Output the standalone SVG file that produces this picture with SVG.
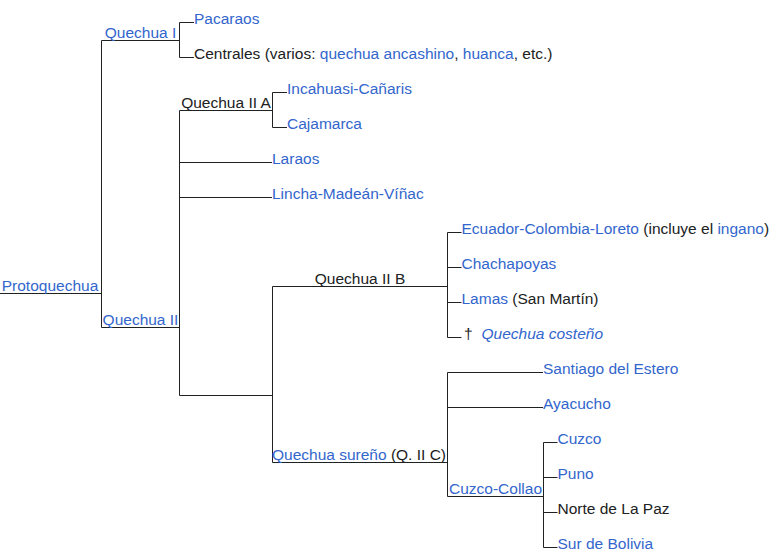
<svg xmlns="http://www.w3.org/2000/svg" width="778" height="558" viewBox="0 0 778 558">
<style>
text{font-family:"Liberation Sans",Arial,sans-serif;font-size:15.5px;fill:#202122}
.l{fill:#3366cc}
.m{text-anchor:middle}
.c path{stroke:#202122;stroke-width:1;fill:none}
</style>
<rect width="778" height="558" fill="#fff"/>
<g class="c" id="connectors">
<path d="M0 293.5H101.5M101.5 40.5V327.5M101.5 40.5H179.5M101.5 327.5H179.5"/>
<path d="M179.5 22.5V57.5M179.5 22.5H194M179.5 57.5H194"/>
<path d="M179.5 110.5V395.5M179.5 110.5H272.5M179.5 162.5H272M179.5 197.5H272M179.5 395.5H272.5"/>
<path d="M272.5 92.5V127.5M272.5 92.5H287M272.5 127.5H287"/>
<path d="M272.5 286.5V462.5M272.5 286.5H447.5M272.5 462.5H447.5"/>
<path d="M447.5 232.5V337.5M447.5 232.5H461.5M447.5 267.5H461.5M447.5 302.5H461.5M447.5 337.5H461.5"/>
<path d="M447.5 372.5V496.5M447.5 372.5H543M447.5 407.5H543M447.5 496.5H543.5"/>
<path d="M543.5 442.5V547.5M543.5 442.5H557.5M543.5 477.5H557.5M543.5 512.5H557.5M543.5 547.5H557.5"/>
</g>
<g id="protoquechua"><text class="l m" x="50" y="291">Protoquechua</text></g>
<g id="quechua-i"><text class="l m" x="140.5" y="38">Quechua I</text></g>
<g id="quechua-ii"><text class="l m" x="140.5" y="325">Quechua II</text></g>
<g id="pacaraos"><text class="l" x="194" y="24">Pacaraos</text></g>
<g id="centrales"><text x="194" y="59">Centrales (varios: <tspan class="l">quechua ancashino</tspan>, <tspan class="l">huanca</tspan>, etc.)</text></g>
<g id="quechua-ii-a"><text class="m" x="226" y="108">Quechua II A</text></g>
<g id="incahuasi"><text class="l" x="287" y="94">Incahuasi-Cañaris</text></g>
<g id="cajamarca"><text class="l" x="287" y="129">Cajamarca</text></g>
<g id="laraos"><text class="l" x="272" y="164">Laraos</text></g>
<g id="lincha"><text class="l" x="272" y="199">Lincha-Madeán-Víñac</text></g>
<g id="quechua-ii-b"><text class="m" x="360" y="284">Quechua II B</text></g>
<g id="ecuador"><text x="461.5" y="234"><tspan class="l">Ecuador-Colombia-Loreto</tspan> (incluye el <tspan class="l">ingano</tspan>)</text></g>
<g id="chachapoyas"><text class="l" x="461.5" y="269">Chachapoyas</text></g>
<g id="lamas"><text x="461.5" y="304"><tspan class="l">Lamas</tspan> (San Martín)</text></g>
<g id="costeno"><text x="464" y="339">†</text><text class="l" x="481.5" y="339" font-style="italic">Quechua costeño</text></g>
<g id="quechua-sureno"><text class="m" x="359" y="460"><tspan class="l">Quechua sureño</tspan> (Q. II C)</text></g>
<g id="santiago"><text class="l" x="543" y="374">Santiago del Estero</text></g>
<g id="ayacucho"><text class="l" x="543" y="409">Ayacucho</text></g>
<g id="cuzco-collao"><text class="l m" x="495.5" y="494">Cuzco-Collao</text></g>
<g id="cuzco"><text class="l" x="557.5" y="444">Cuzco</text></g>
<g id="puno"><text class="l" x="557.5" y="479">Puno</text></g>
<g id="norte-la-paz"><text x="557.5" y="514">Norte de La Paz</text></g>
<g id="sur-bolivia"><text class="l" x="557.5" y="549">Sur de Bolivia</text></g>
</svg>
